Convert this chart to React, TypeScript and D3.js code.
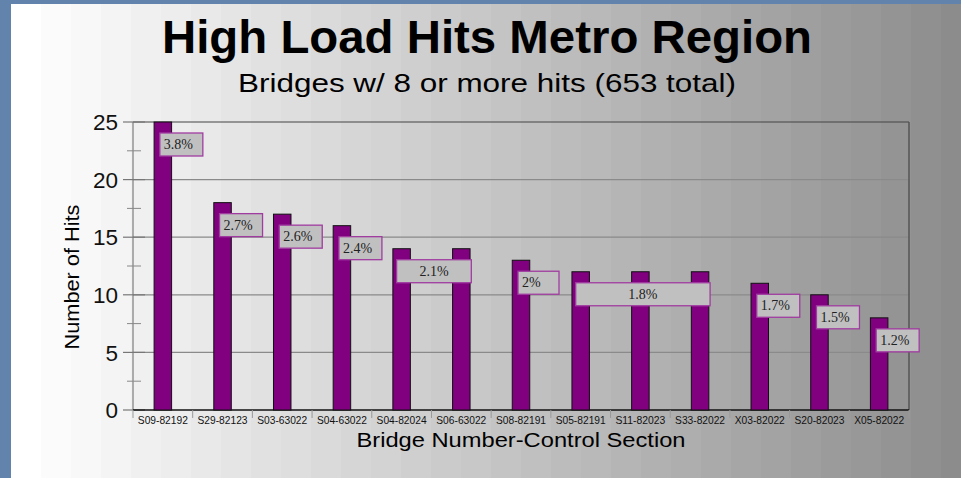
import React, { useEffect, useRef } from "react";
import * as d3 from "d3";

const bridges = [
    "S09-82192", "S29-82123", "S03-63022", "S04-63022", "S04-82024", "S06-63022", "S08-82191",
    "S05-82191", "S11-82023", "S33-82022", "X03-82022", "S20-82023", "X05-82022"
];
const hits = [25, 18, 17, 16, 14, 14, 13, 12, 12, 12, 11, 10, 8];
// percent labels: first bridge index, last bridge index (labels may span bars)
const pctText = ["3.8%", "2.7%", "2.6%", "2.4%", "2.1%", "2%", "1.8%", "1.7%", "1.5%", "1.2%"];
const pctFrom = [0, 1, 2, 3, 4, 6, 7, 10, 11, 12];
const pctTo = [0, 1, 2, 3, 5, 6, 9, 10, 11, 12];
const yTicks = [0, 5, 10, 15, 20, 25];

const W = 961;
const H = 478;

const App: React.FC = () => {
    const svgRef = useRef<SVGSVGElement>(null);

    useEffect(() => {
        if (!svgRef.current) return;
        const svg = d3.select(svgRef.current);
        svg.selectAll("*").remove();

        const plot = { left: 133, right: 909, top: 122, bottom: 410 };
        const sans = "Liberation Sans, Arial, sans-serif";

        // blue slide border + stepped grey gradient panel
        svg.append("rect").attr("width", W).attr("height", H).attr("fill", "#6283ac");
        const grey = d3.interpolateRgb("#ffffff", "#8a8a8a");
        const step = 30;
        for (let x = 11; x < W; x += step) {
            svg.append("rect")
                .attr("x", x).attr("y", 4)
                .attr("width", step + 1).attr("height", H - 4)
                .attr("fill", grey((x - 11) / (W - 11)));
        }

        const x = d3.scaleBand()
            .domain(bridges)
            .range([plot.left, plot.right])
            .padding(0);
        const y = d3.scaleLinear().domain([0, 25]).range([plot.bottom, plot.top]);
        const barW = 17.5;
        const cx = (i: number) => (x(bridges[i]) || 0) + x.bandwidth() / 2;

        // grid lines
        const g = svg.append("g");
        yTicks.filter(t => t > 0 && t < 25).forEach(t => {
            g.append("line")
                .attr("x1", plot.left).attr("x2", plot.right)
                .attr("y1", y(t)).attr("y2", y(t))
                .attr("stroke", "#8a8a8a").attr("stroke-width", 1.2);
        });
        // top and right frame
        g.append("line").attr("x1", plot.left).attr("x2", plot.right)
            .attr("y1", y(25)).attr("y2", y(25)).attr("stroke", "#444").attr("stroke-width", 1.2);
        g.append("line").attr("x1", plot.right).attr("x2", plot.right)
            .attr("y1", y(25)).attr("y2", plot.bottom).attr("stroke", "#555").attr("stroke-width", 1.5);

        // left axis with major and minor ticks
        g.append("line").attr("x1", plot.left).attr("x2", plot.left)
            .attr("y1", y(25)).attr("y2", plot.bottom).attr("stroke", "#666").attr("stroke-width", 1);
        yTicks.forEach(t => {
            g.append("line").attr("x1", plot.left - 10).attr("x2", plot.left + 12)
                .attr("y1", y(t)).attr("y2", y(t)).attr("stroke", "#777").attr("stroke-width", 1.2);
            g.append("text")
                .attr("x", plot.left - 15).attr("y", y(t)).attr("dy", "0.36em")
                .attr("text-anchor", "end")
                .attr("font-family", sans)
                .attr("font-size", 22.5).attr("fill", "#111")
                .text(t);
        });
        d3.range(2.5, 25, 5).forEach(t => {
            g.append("line").attr("x1", plot.left - 6).attr("x2", plot.left + 8)
                .attr("y1", y(t)).attr("y2", y(t)).attr("stroke", "#888").attr("stroke-width", 1);
        });

        // bottom axis
        g.append("line").attr("x1", plot.left).attr("x2", plot.right)
            .attr("y1", plot.bottom).attr("y2", plot.bottom).attr("stroke", "#111").attr("stroke-width", 1.3);
        d3.range(bridges.length + 1).forEach(i => {
            const bx = plot.left + i * x.bandwidth();
            g.append("line").attr("x1", bx).attr("x2", bx)
                .attr("y1", plot.bottom).attr("y2", plot.bottom + 8)
                .attr("stroke", "#999").attr("stroke-width", 1);
        });
        bridges.forEach((b, i) => {
            g.append("text")
                .attr("x", cx(i)).attr("y", plot.bottom + 14)
                .attr("text-anchor", "middle")
                .attr("font-family", sans)
                .attr("font-size", 11.5).attr("fill", "#111")
                .attr("textLength", 50).attr("lengthAdjust", "spacingAndGlyphs")
                .text(b);
        });

        // bars
        g.selectAll(".bar")
            .data(hits)
            .enter()
            .append("rect")
            .attr("class", "bar")
            .attr("x", (_d, i) => cx(i) - barW / 2)
            .attr("y", d => y(d))
            .attr("width", barW)
            .attr("height", d => plot.bottom - y(d))
            .attr("fill", "#800080")
            .attr("stroke", "#111")
            .attr("stroke-width", 1);

        // percent labels
        pctText.forEach((txt, k) => {
            const a = pctFrom[k];
            const b = pctTo[k];
            const top = y(Math.max(...hits.slice(a, b + 1))) + 11;
            const span = b > a;
            const x0 = cx(a) - (span ? 5 : 3);
            const x1 = span ? cx(b) + 10 : x0 + (txt.length > 2 ? 43 : 41);
            const lab = g.append("g");
            lab.append("rect")
                .attr("x", x0).attr("y", top)
                .attr("width", x1 - x0).attr("height", 23)
                .attr("fill", "#c0c0c0")
                .attr("stroke", "#a03ca0").attr("stroke-width", 1.3);
            lab.append("text")
                .attr("x", span ? (x0 + x1) / 2 : x0 + 4)
                .attr("y", top + 16)
                .attr("text-anchor", span ? "middle" : "start")
                .attr("font-family", "Liberation Serif, Times New Roman, serif")
                .attr("font-size", 14).attr("fill", "#222")
                .text(txt);
        });

        // titles
        svg.append("text")
            .attr("x", 487).attr("y", 53)
            .attr("text-anchor", "middle")
            .attr("font-family", sans)
            .attr("font-weight", "bold").attr("font-size", 47).attr("fill", "#000")
            .attr("textLength", 650).attr("lengthAdjust", "spacingAndGlyphs")
            .text("High Load Hits Metro Region");
        svg.append("text")
            .attr("x", 487).attr("y", 92)
            .attr("text-anchor", "middle")
            .attr("font-family", sans)
            .attr("font-size", 26).attr("fill", "#000")
            .attr("textLength", 498).attr("lengthAdjust", "spacingAndGlyphs")
            .text("Bridges w/ 8 or more hits (653 total)");
        svg.append("text")
            .attr("x", (plot.left + plot.right) / 2).attr("y", 447)
            .attr("text-anchor", "middle")
            .attr("font-family", sans)
            .attr("font-size", 21).attr("fill", "#000")
            .attr("textLength", 329).attr("lengthAdjust", "spacingAndGlyphs")
            .text("Bridge Number-Control Section");
        svg.append("text")
            .attr("transform", `translate(79, 277) rotate(-90)`)
            .attr("text-anchor", "middle")
            .attr("font-family", sans)
            .attr("font-size", 21).attr("fill", "#000")
            .attr("textLength", 145).attr("lengthAdjust", "spacingAndGlyphs")
            .text("Number of Hits");
    }, []);

    return (
        <svg
            ref={svgRef}
            width={W}
            height={H}
            style={{ position: "absolute", top: 0, left: 0, display: "block" }}
        />
    );
};

export default App;
